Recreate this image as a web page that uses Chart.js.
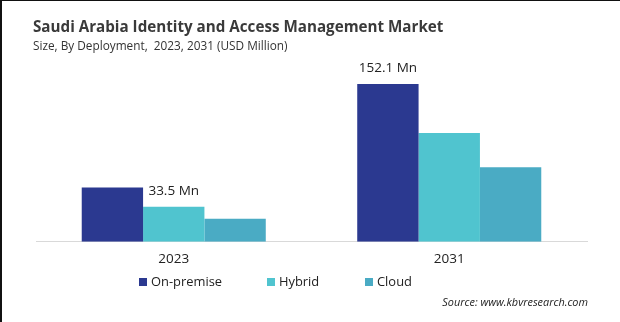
<!DOCTYPE html>
<html>
<head>
<meta charset="utf-8">
<script src="https://cdn.jsdelivr.net/npm/chart.js@4.4.1/dist/chart.umd.min.js"></script>
<style>
  html, body { margin: 0; padding: 0; background: #fff; }
  #wrap { position: relative; width: 620px; height: 322px; overflow: hidden; background: #fff; font-family: "Open Sans", sans-serif; }
  #chart { position: absolute; left: 0; top: 0; }
  .bl { position: absolute; left: 0; top: 0; width: 2px; height: 322px; background: #111; }
  .bt { position: absolute; left: 0; top: 0; width: 620px; height: 1px; background: #111; }
  #title { position: absolute; left: 33px; top: 16px; font-size: 15.2px; font-weight: 700; color: #3a3a3a; white-space: nowrap; }
  #subtitle { position: absolute; left: 33px; top: 37px; font-size: 11.8px; color: #333; white-space: nowrap; }
  #source { position: absolute; right: 32px; top: 294px; font-size: 10.9px; font-style: italic; color: #222; white-space: nowrap; }
  #legend { position: absolute; left: 0; top: 272px; width: 620px; height: 20px; }
  .li { position: absolute; top: 0; font-size: 12.9px; color: #222; white-space: nowrap; line-height: 19px; }
  .li span.box { display: inline-block; width: 8px; height: 8px; margin-right: 4px; vertical-align: 0px; }
</style>
</head>
<body>
<div id="wrap">
  <canvas id="chart" width="620" height="322"></canvas>
  <div class="bl"></div><div class="bt"></div>
  <div id="title">Saudi Arabia Identity and Access Management Market</div>
  <div id="subtitle">Size, By Deployment,&nbsp; 2023, 2031 (USD Million)</div>
  <div id="legend"></div>
  <div id="source">Source: www.kbvresearch.com</div>
</div>
<script>
// ---- data ----
const categories = ['2023', '2031'];
const seriesNames = ['On-premise', 'Hybrid', 'Cloud'];
const onPremise = [33.5, 152.1];
const hybrid = [25.3, 74.4];
const cloud = [21.2, 45.1];
const valueLabels = ['33.5 Mn', '152.1 Mn'];

// ---- styles ----
const colors = ['#2B3990', '#50C4CF', '#4AABC4'];
const legendX = [139, 267, 365];

const legendEl = document.getElementById('legend');
seriesNames.forEach((n, i) => {
  const d = document.createElement('div');
  d.className = 'li';
  d.style.left = legendX[i] + 'px';
  d.innerHTML = '<span class="box" style="background:' + colors[i] + '"></span>' + n;
  legendEl.appendChild(d);
});

const labelPlugin = {
  id: 'valueLabels',
  afterDatasetsDraw(chart) {
    const ctx = chart.ctx;
    ctx.save();
    ctx.font = '13.5px "Open Sans", sans-serif';
    ctx.fillStyle = '#222';
    ctx.textAlign = 'center';
    ctx.textBaseline = 'middle';
    const m0 = chart.getDatasetMeta(0);
    const m1 = chart.getDatasetMeta(1);
    categories.forEach((c, i) => {
      // first group: label sits over the middle bar, second: over the first bar
      const bar = i === 0 ? m1.data[i] : m0.data[i];
      ctx.fillText(valueLabels[i], bar.x, bar.y - 16);
    });
    ctx.restore();
  }
};

const yMin = 15.15;
const yMax = 216;

new Chart(document.getElementById('chart'), {
  type: 'bar',
  data: {
    labels: categories,
    datasets: [
      { label: seriesNames[0], data: onPremise, backgroundColor: colors[0] },
      { label: seriesNames[1], data: hybrid, backgroundColor: colors[1] },
      { label: seriesNames[2], data: cloud, backgroundColor: colors[2] }
    ]
  },
  options: {
    responsive: false,
    animation: false,
    layout: { padding: { left: 36, right: 33, top: 60, bottom: 46 } },
    plugins: { legend: { display: false }, tooltip: { enabled: false } },
    datasets: { bar: { categoryPercentage: 0.668, barPercentage: 1.0 } },
    scales: {
      x: {
        grid: { display: false, drawTicks: false },
        border: { display: true, color: '#d9d9d9', width: 1 },
        ticks: { color: '#222', font: { family: '"Open Sans", sans-serif', size: 13.5 }, padding: 9 }
      },
      y: {
        type: 'logarithmic',
        display: false,
        min: yMin,
        max: yMax
      }
    }
  },
  plugins: [labelPlugin]
});
</script>
</body>
</html>
